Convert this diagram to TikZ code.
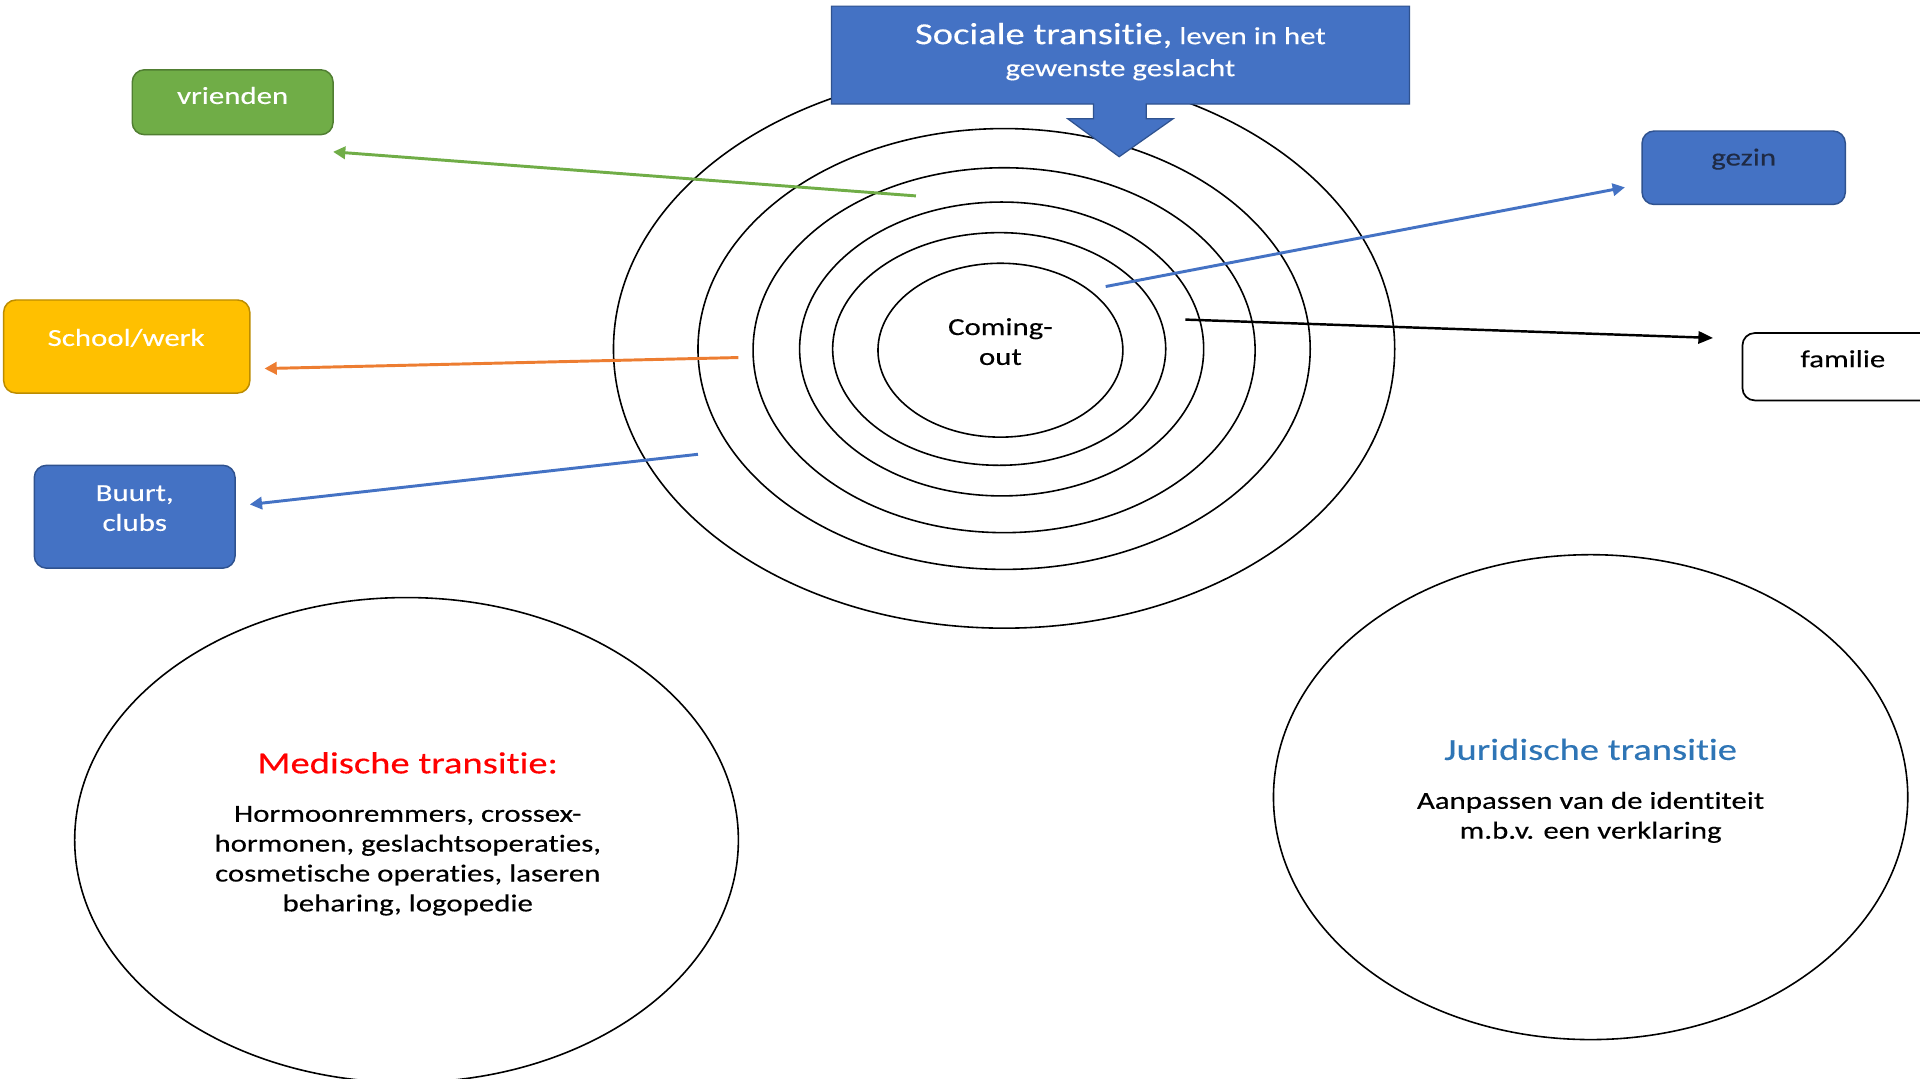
\documentclass[tikz,border=0pt]{standalone}
\usepackage{fontspec}
\setmainfont{Carlito}[FakeStretch=1.26, FakeBold=0.3, Ligatures=NoCommon]
\usetikzlibrary{arrows.meta}
\definecolor{wblue}{HTML}{4472C4}
\definecolor{wbluedark}{HTML}{2F528F}
\definecolor{wgreen}{HTML}{70AD47}
\definecolor{wgreendark}{HTML}{507E32}
\definecolor{wyellow}{HTML}{FFC000}
\definecolor{wyellowdark}{HTML}{BC8C00}
\definecolor{worange}{HTML}{ED7D31}
\definecolor{jurblue}{HTML}{2E75B6}
\definecolor{navytext}{HTML}{1F2A44}
\begin{document}
\begin{tikzpicture}[x=0.5pt,y=-0.5pt]
\tikzset{
  ring/.style={draw=black, line width=0.65pt},
  rbox/.style={rectangle, rounded corners=5pt, line width=0.6pt, inner sep=0pt},
  btxt/.style={font=\fontsize{10}{12.2}\selectfont, align=center, inner sep=0pt},
  conn/.style={line width=1.2pt, -{Triangle[length=5pt,width=5pt]}},
}
\useasboundingbox (0,0) rectangle (1568,881);
\fill[white] (0,0) rectangle (1568,881);

% concentric rings
\draw[ring] (820,285) ellipse [x radius=319, y radius=228];
\draw[ring] (820,285) ellipse [x radius=250, y radius=180];
\draw[ring] (820,286) ellipse [x radius=205, y radius=149];
\draw[ring] (818,285) ellipse [x radius=165, y radius=120];
\draw[ring] (816,285) ellipse [x radius=136, y radius=95];
\draw[ring] (817,286) ellipse [x radius=100, y radius=71];
\node[btxt, text=black] (coming) at (817,279) {Coming-\\out};

% big ellipses
\draw[ring] (332,686) ellipse [x radius=271, y radius=198];
\draw[ring] (1299,651) ellipse [x radius=259, y radius=198];

% social transition callout
\filldraw[fill=wblue, draw=wbluedark, line width=0.5pt]
  (679,5) -- (1151,5) -- (1151,85) -- (936,85) -- (936,97) -- (958,97) -- (914,128)
  -- (872,97) -- (893,97) -- (893,85) -- (679,85) -- cycle;
\node[inner sep=0pt, text=white] (socT1) at (915,29)
  {{\fontsize{12.5}{14}\selectfont Sociale transitie,} {\fontsize{10}{12}\selectfont leven in het}};
\node[inner sep=0pt, text=white, font=\fontsize{10}{12}\selectfont] (socT2) at (915,57) {gewenste geslacht};

% boxes
\node[rbox, fill=wgreen, draw=wgreendark, minimum width=82pt, minimum height=26.5pt] (vrienden) at (190,83.5) {};
\node[btxt, text=white] (vriendenT) at (190,78) {vrienden};

\node[rbox, fill=wyellow, draw=wyellowdark, minimum width=100.5pt, minimum height=38pt] (school) at (103.5,283) {};
\node[btxt, text=white] (schoolT) at (103,276) {School/werk};

\node[rbox, fill=wblue, draw=wbluedark, minimum width=82pt, minimum height=42pt] (buurt) at (110,422) {};
\node[btxt, text=white] (buurtT) at (110,415) {Buurt,\\clubs};

\node[rbox, fill=wblue, draw=wbluedark, minimum width=83pt, minimum height=30pt] (gezin) at (1424,137) {};
\node[btxt, text=navytext] (gezinT) at (1424,130) {gezin};

\node[rbox, fill=white, draw=black, line width=0.7pt, minimum width=85pt, minimum height=27.5pt] (familie) at (1508,299.5) {};
\node[btxt, text=black] (familieT) at (1505,293) {familie};

% connectors
\coordinate (gS) at (748,160); \coordinate (gE) at (272,124);
\coordinate (zS) at (903,234); \coordinate (zE) at (1327,153);
\coordinate (fS) at (968,261); \coordinate (fE) at (1399,276);
\coordinate (oS) at (603,292); \coordinate (oE) at (216,301);
\coordinate (bS) at (570,371); \coordinate (bE) at (204,412);
\draw[conn, draw=wgreen] (gS) -- (gE);
\draw[conn, draw=wblue] (zS) -- (zE);
\draw[line width=1pt, -{Triangle[length=6pt,width=5pt]}, draw=black] (fS) -- (fE);
\draw[conn, draw=worange] (oS) -- (oE);
\draw[conn, draw=wblue] (bS) -- (bE);

% texts in big ellipses
\node[inner sep=0pt, text=red, font=\fontsize{12.5}{15}\selectfont] (medT) at (333,623) {Medische transitie:};
\node[btxt, text=black] (medB) at (333,703) {Hormoonremmers, crossex-\\hormonen, geslachtsoperaties,\\cosmetische operaties, laseren\\beharing, logopedie};
\node[inner sep=0pt, text=jurblue, font=\fontsize{12.5}{15}\selectfont] (jurT) at (1299,612) {Juridische transitie};
\node[btxt, text=black] (jurB) at (1299,667.5) {Aanpassen van de identiteit\\m.b.v. een verklaring};
\end{tikzpicture}
\end{document}
